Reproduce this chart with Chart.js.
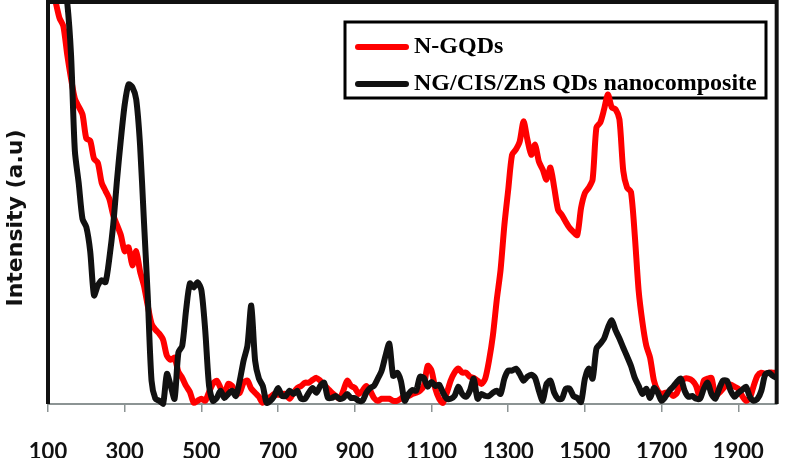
<!DOCTYPE html>
<html>
<head>
<meta charset="utf-8">
<script src="https://cdn.jsdelivr.net/npm/chart.js@4"></script>
<style>
  html, body { margin: 0; padding: 0; background: #fff; }
  #wrap { width: 791px; height: 458px; }
</style>
</head>
<body>
<div id="wrap"><canvas id="spectrum"></canvas></div>
<script>
// wavenumber samples
const waveNumbers = [
  100, 110, 120, 130, 140, 150, 160, 170, 180, 190, 200, 210, 220, 230, 240, 250, 260, 270, 280, 290,
  300, 310, 320, 330, 340, 350, 360, 370, 380, 390, 400, 410, 420, 430, 440, 450, 460, 470, 480, 490,
  500, 510, 520, 530, 540, 550, 560, 570, 580, 590, 600, 610, 620, 630, 640, 650, 660, 670, 680, 690,
  700, 710, 720, 730, 740, 750, 760, 770, 780, 790, 800, 810, 820, 830, 840, 850, 860, 870, 880, 890,
  900, 910, 920, 930, 940, 950, 960, 970, 980, 990, 1000, 1010, 1020, 1030, 1040, 1050, 1060, 1070, 1080, 1090,
  1100, 1110, 1120, 1130, 1140, 1150, 1160, 1170, 1180, 1190, 1200, 1210, 1220, 1230, 1240, 1250, 1260, 1270, 1280, 1290,
  1300, 1310, 1320, 1330, 1340, 1350, 1360, 1370, 1380, 1390, 1400, 1410, 1420, 1430, 1440, 1450, 1460, 1470, 1480, 1490,
  1500, 1510, 1520, 1530, 1540, 1550, 1560, 1570, 1580, 1590, 1600, 1610, 1620, 1630, 1640, 1650, 1660, 1670, 1680, 1690,
  1700, 1710, 1720, 1730, 1740, 1750, 1760, 1770, 1780, 1790, 1800, 1810, 1820, 1830, 1840, 1850, 1860, 1870, 1880, 1890,
  1900, 1910, 1920, 1930, 1940, 1950, 1960, 1970, 1980, 1990, 2000
];

const nGqds = [
  107, 104, 100, 96, 94, 87, 81, 76, 74, 72, 66, 65.5, 61, 60, 55, 53, 51, 47, 44.5, 42,
  38, 39, 34.5, 38, 33, 29.5, 24.5, 20, 18.5, 17.5, 16, 12, 11, 11.5, 8, 6.5, 4.5, 3, 0.3, 0.8,
  1.3, 0.8, 3, 5, 5.8, 4, 2.5, 5, 4.5, 2.5, 2.8, 5.3, 5.8, 3.8, 2.8, 1.8, 0.3, 1.3, 1.8, 2.5,
  2.3, 2.5, 2.5, 1.3, 2.8, 4, 4.5, 5.3, 5.3, 6, 6.5, 5.8, 4.8, 3.8, 2.8, 2, 1.3, 3.3, 5.8, 4.5,
  4, 2.5, 3.3, 4.5, 3.3, 1.5, 0.8, 1.3, 1.3, 1.3, 0.8, 0.8, 1.3, 2, 2, 2.5, 2.8, 3.3, 4.5, 9.5,
  8.3, 3.8, 1.3, 0.3, 2.8, 5.8, 7.8, 8.8, 7.8, 7.8, 6.8, 6.5, 5.8, 5, 6.3, 10.8, 17, 25.8, 33.3, 44.5,
  53.3, 62, 63.3, 65.3, 70.3, 65.8, 62, 64.5, 60.3, 58.3, 55.8, 58.8, 53.8, 48.3, 47, 45.3, 43.8, 42.8, 42, 48.8,
  52.5, 53.8, 55.8, 68.8, 70, 73.3, 77, 73.8, 73.3, 70.8, 58, 53.8, 52.8, 42, 28.3, 20.3, 14.5, 11.5, 5.8, 3.3,
  2.5, 2.8, 2.8, 2, 2.8, 5.5, 6.3, 6.3, 5.8, 4.5, 1.5, 5.8, 6.3, 6.5, 2, 2.8, 3.8, 4.8, 4.8, 4.3,
  3.8, 2, 0.8, 1.5, 4.5, 7, 7.8, 7.5, 7.8, 7.8, 7.8
];

const nanocomposite = [
  135, 128, 120, 113, 106, 100, 87, 63, 55, 46, 44, 38, 27, 29.5, 30.8, 30.3, 36.3, 44.5, 55.8, 65.8,
  74.5, 79.5, 78.8, 75.8, 64.5, 45.8, 27, 5.8, 1.3, 0.8, 0, 7.5, 4.5, 1.3, 12.8, 14.5, 23.3, 30, 29, 30.3,
  28.3, 18.3, 4.5, 0.8, 1.5, 3.3, 1.5, 2.5, 3.3, 2, 5.8, 10.8, 14.5, 24.5, 10.8, 6.3, 4.5, 0.3, 0.8, 2,
  4, 2, 2, 3.3, 2.5, 3.3, 1.3, 1.3, 2.8, 4, 2.8, 4.5, 5.3, 1.5, 1.5, 2, 1.3, 1.5, 2.5, 1.5,
  1.5, 0.8, 0.8, 2.8, 4, 4.5, 6.3, 8.3, 12, 15, 7, 7.8, 5.8, 0.8, 2.5, 3.5, 3.3, 6.8, 6.5, 4.3,
  5.5, 4.5, 4.8, 2.8, 1.3, 1.3, 2, 4.3, 2.5, 1.8, 3.3, 6.3, 1.3, 2.5, 2, 2, 2.8, 3.3, 2.5, 6.3,
  8.3, 8.3, 8.8, 7.5, 5.8, 6.8, 7.3, 6.5, 3.3, 0.8, 5, 5.8, 2.8, 1.3, 1.3, 3.8, 3.8, 2, 1.5, 0.5,
  6.3, 8.8, 6.3, 13.8, 15, 16.3, 19, 20.8, 18.3, 16.3, 14, 11.8, 9.5, 6.5, 4.5, 2.5, 3.8, 1.5, 4, 2.8,
  0.8, 1.8, 3.3, 4.3, 5.5, 6.3, 3.3, 1.8, 2, 1.3, 1.3, 3.8, 5.3, 2.5, 1.3, 3.8, 5.8, 5.8, 3.3, 1.8,
  2.8, 3.5, 4.3, 1.8, 0.8, 1.3, 3.3, 7.3, 7.8, 7, 6.5
];

const xTickLabels = [100, 300, 500, 700, 900, 1100, 1300, 1500, 1700, 1900];
const yAxisTitle = 'Intensity (a.u)';

const toPoints = vals => vals.map((v, i) => ({ x: waveNumbers[i], y: v }));

// boxed legend sitting inside the plot, drawn under the lines
const boxLegend = {
  id: 'boxLegend',
  beforeDatasetsDraw(chart) {
    const c = chart.ctx;
    c.save();
    c.fillStyle = '#fff';
    c.fillRect(345, 22, 421, 76);
    c.strokeStyle = '#000';
    c.lineWidth = 3;
    c.strokeRect(345, 22, 421, 76);
    c.font = 'bold 24px "Liberation Serif"';
    c.textBaseline = 'middle';
    chart.data.datasets.forEach((ds, i) => {
      const y = 47 + i * 37;
      c.strokeStyle = ds.borderColor;
      c.lineWidth = 6;
      c.lineCap = 'round';
      c.beginPath();
      c.moveTo(358, y);
      c.lineTo(406, y);
      c.stroke();
      c.fillStyle = '#000';
      c.fillText(ds.label, 414, y);
    });
    c.restore();
  }
};

// black frame on left, top and right of the plot + the rotated y title
const plotFrame = {
  id: 'plotFrame',
  afterDatasetsDraw(chart) {
    const a = chart.chartArea, c = chart.ctx;
    c.save();
    c.strokeStyle = '#111';
    c.lineWidth = 4;
    c.beginPath();
    c.moveTo(a.left, a.bottom);
    c.lineTo(a.left, a.top);
    c.lineTo(a.right, a.top);
    c.lineTo(a.right, a.bottom);
    c.stroke();

    c.translate(16, 218);
    c.rotate(-Math.PI / 2);
    c.fillStyle = '#111';
    c.font = 'bold 22px "DejaVu Sans"';
    c.textAlign = 'center';
    c.textBaseline = 'middle';
    c.fillText(yAxisTitle, 0, 0);
    c.restore();
  }
};

new Chart(document.getElementById('spectrum'), {
  type: 'line',
  data: {
    datasets: [{
      label: 'N-GQDs',
      data: toPoints(nGqds),
      borderColor: '#ff0000',
      borderWidth: 6,
      order: 2
    }, {
      label: 'NG/CIS/ZnS QDs nanocomposite',
      data: toPoints(nanocomposite),
      borderColor: '#111111',
      borderWidth: 6,
      order: 1
    }]
  },
  options: {
    responsive: true,
    maintainAspectRatio: false,
    animation: false,
    layout: { padding: { top: 2, right: 3, left: 0, bottom: 0 } },
    elements: {
      point: { radius: 0 },
      line: { tension: 0.25, borderJoinStyle: 'round', borderCapStyle: 'round' }
    },
    datasets: { line: { clip: { left: 0, top: 0, right: 0, bottom: 3 } } },
    plugins: { legend: { display: false }, tooltip: { enabled: false } },
    scales: {
      x: {
        type: 'linear',
        min: 100,
        max: 2000,
        afterBuildTicks: s => { s.ticks = xTickLabels.map(v => ({ value: v })); },
        afterFit: s => { s.height = 54; },
        border: { display: true, color: '#8c9494', width: 2 },
        grid: { drawOnChartArea: false, drawTicks: true, tickLength: 8, color: '#8c9494', lineWidth: 1.5 },
        ticks: {
          autoSkip: false,
          maxRotation: 0,
          padding: 27,
          color: '#111',
          callback: v => String(v),
          font: { family: 'Lato', weight: 'bold', size: 22 }
        }
      },
      y: {
        min: 0,
        max: 100,
        afterFit: s => { s.width = 48; },
        border: { display: false },
        grid: { display: false },
        ticks: { display: false }
      }
    }
  },
  plugins: [boxLegend, plotFrame]
});
</script>
</body>
</html>
